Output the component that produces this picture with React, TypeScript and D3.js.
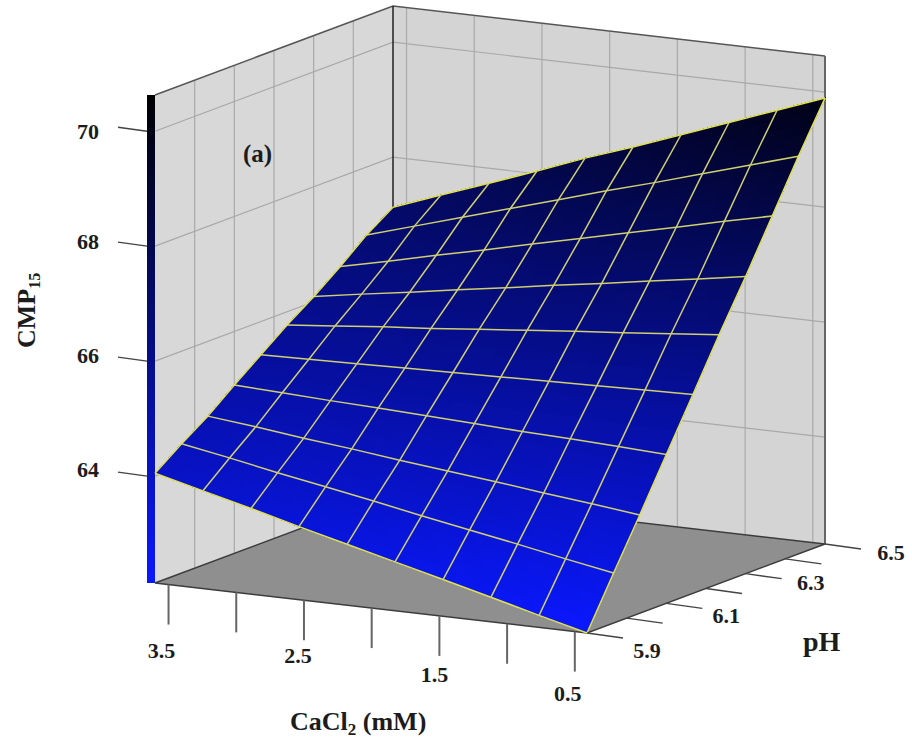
import React from 'react';
import * as d3 from 'd3';

// axis ticks
const caTicks = [3.5, 3, 2.5, 2, 1.5, 1, 0.5];
const phTicks = [5.9, 6.0, 6.1, 6.2, 6.3, 6.4, 6.5];
const zTicks = [64, 66, 68, 70];
const caLabels = ['3.5', '2.5', '1.5', '0.5'];
const phLabels = ['5.9', '6.1', '6.3', '6.5'];

// surface grid
const gridCa = [3.6, 3.246, 2.891, 2.537, 2.182, 1.828, 1.473, 1.119, 0.764, 0.41];
const gridPh = [5.9, 5.967, 6.033, 6.1, 6.167, 6.233, 6.3, 6.367, 6.433, 6.5];
const cmp15 = [
  [64.05, 63.84, 63.63, 63.41, 63.2, 62.99, 62.78, 62.57, 62.35, 62.14],
  [64.39, 64.24, 64.08, 63.93, 63.78, 63.62, 63.47, 63.32, 63.16, 63.01],
  [64.7, 64.61, 64.51, 64.42, 64.32, 64.23, 64.14, 64.04, 63.95, 63.85],
  [65.07, 65.03, 64.99, 64.96, 64.92, 64.88, 64.84, 64.81, 64.77, 64.73],
  [65.42, 65.44, 65.46, 65.48, 65.5, 65.52, 65.54, 65.56, 65.58, 65.6],
  [65.77, 65.85, 65.93, 66.0, 66.08, 66.16, 66.24, 66.31, 66.39, 66.47],
  [66.09, 66.23, 66.36, 66.5, 66.63, 66.77, 66.9, 67.04, 67.17, 67.31],
  [66.44, 66.63, 66.83, 67.02, 67.22, 67.41, 67.61, 67.8, 68.0, 68.19],
  [66.82, 67.07, 67.32, 67.57, 67.82, 68.07, 68.31, 68.56, 68.81, 69.06],
  [67.13, 67.44, 67.74, 68.05, 68.37, 68.66, 68.97, 69.28, 69.59, 69.9],
];

const caRange: [number, number] = [3.6, 0.41];
const phRange: [number, number] = [5.9, 6.5];
const zRange: [number, number] = [62.14, 70.63];

const scaleU = d3.scaleLinear().domain(caRange).range([0, 1]);
const scaleV = d3.scaleLinear().domain(phRange).range([0, 1]);
const scaleZ = d3.scaleLinear().domain(zRange).range([0, -488]);
const colour = d3.scaleLinear<string>().domain(zRange).range(['#0a18ff', '#000000']);

// the view is a plain oblique one, so a point is just origin + three axis vectors
const project = (ca: number, ph: number, z: number): [number, number] => {
  const u = scaleU(ca);
  const v = scaleV(ph);
  return [155 + u * 432 + v * 238, 583 + u * 50 - v * 89 + scaleZ(z)];
};

const line = d3.line<[number, number]>();
const [zLo, zHi] = zRange;
const [caHi, caLo] = caRange;
const [phLo, phHi] = phRange;

const poly = (pts: [number, number][]) => line(pts) + 'Z';

// smooth out the shading: split every mesh cell into small quads
const SUB = 5;
const shaded: { d: string; fill: string }[] = [];
for (let r = 0; r < gridPh.length - 1; r++) {
  for (let c = 0; c < gridCa.length - 1; c++) {
    const at = (a: number, b: number): [number, number, number] => {
      const ca = gridCa[c] + (gridCa[c + 1] - gridCa[c]) * a;
      const ph = gridPh[r] + (gridPh[r + 1] - gridPh[r]) * b;
      const z =
        (1 - b) * ((1 - a) * cmp15[r][c] + a * cmp15[r][c + 1]) +
        b * ((1 - a) * cmp15[r + 1][c] + a * cmp15[r + 1][c + 1]);
      return [ca, ph, z];
    };
    for (let i = 0; i < SUB; i++) {
      for (let j = 0; j < SUB; j++) {
        const corners = [
          at(i / SUB, j / SUB),
          at((i + 1) / SUB, j / SUB),
          at((i + 1) / SUB, (j + 1) / SUB),
          at(i / SUB, (j + 1) / SUB),
        ];
        const mid = at((i + 0.5) / SUB, (j + 0.5) / SUB);
        shaded.push({
          d: poly(corners.map((p) => project(p[0], p[1], p[2]))),
          fill: colour(mid[2]) as string,
        });
      }
    }
  }
}

const rowPaths = gridPh.map((ph, r) => line(gridCa.map((ca, c) => project(ca, ph, cmp15[r][c]))) as string);
const colPaths = gridCa.map((ca, c) => line(gridPh.map((ph, r) => project(ca, ph, cmp15[r][c]))) as string);

const barStops = d3.range(0, 1.01, 0.1);

// hand placed labels in the original, offsets from their tick
const zLabelDy = [1, 2, 3, 8];
const caLabelOffset = [[-7, 73], [-6, 63], [-5, 66], [-7, 69]];
const phLabelOffset = [[60, 25], [60, 20], [65, 16], [66, 16]];

const serif = '"Liberation Serif", serif';
const ink = '#1c1c1c';

export default function App() {
  const wallGrid = '#a9a9a9';
  return (
    <svg
      width={912}
      height={740}
      style={{ position: 'absolute', left: 0, top: 0, background: '#fff' }}
      fontFamily={serif}
      fontWeight="bold"
      fill={ink}
    >
      <defs>
        <linearGradient id="bar" x1="0" y1="1" x2="0" y2="0">
          {barStops.map((t) => (
            <stop
              key={t}
              offset={t}
              stopColor={colour(zLo + (zHi - zLo) * t) as string}
            />
          ))}
        </linearGradient>
      </defs>

      {/* walls */}
      <path
        d={poly([project(caHi, phLo, zLo), project(caHi, phHi, zLo), project(caHi, phHi, zHi), project(caHi, phLo, zHi)])}
        fill="#d8d8d8"
      />
      <path
        d={poly([project(caHi, phHi, zLo), project(caLo, phHi, zLo), project(caLo, phHi, zHi), project(caHi, phHi, zHi)])}
        fill="#d4d4d4"
      />
      {phTicks.slice(1, -1).map((ph) => (
        <path key={ph} d={line([project(caHi, ph, zLo), project(caHi, ph, zHi)]) as string} stroke={wallGrid} strokeWidth={1.2} fill="none" />
      ))}
      {caTicks.map((ca) => (
        <path key={ca} d={line([project(ca, phHi, zLo), project(ca, phHi, zHi)]) as string} stroke={wallGrid} strokeWidth={1.2} fill="none" />
      ))}
      {zTicks.map((z) => (
        <path
          key={z}
          d={line([project(caHi, phLo, z), project(caHi, phHi, z), project(caLo, phHi, z)]) as string}
          stroke={wallGrid}
          strokeWidth={1.2}
          fill="none"
        />
      ))}
      <path d={line([project(caHi, phLo, zHi), project(caHi, phHi, zHi), project(caLo, phHi, zHi)]) as string} stroke="#555" strokeWidth={1.6} fill="none" />
      <path d={line([project(caHi, phHi, zLo), project(caHi, phHi, zHi)]) as string} stroke="#222" strokeWidth={1.5} fill="none" />
      <path d={line([project(caLo, phHi, zLo), project(caLo, phHi, zHi)]) as string} stroke="#666" strokeWidth={2} fill="none" />

      {/* floor */}
      <path
        d={poly([project(caHi, phLo, zLo), project(caLo, phLo, zLo), project(caLo, phHi, zLo), project(caHi, phHi, zLo)])}
        fill="#8f8f8f"
        stroke="#3c3c3c"
        strokeWidth={1.5}
      />

      {/* colour bar */}
      <rect
        x={147}
        y={project(caHi, phLo, zHi)[1]}
        width={8}
        height={project(caHi, phLo, zLo)[1] - project(caHi, phLo, zHi)[1]}
        fill="url(#bar)"
      />

      {/* surface */}
      {shaded.map((q, i) => (
        <path key={i} d={q.d} fill={q.fill} stroke={q.fill} strokeWidth={1} shapeRendering="crispEdges" />
      ))}
      {rowPaths.map((d, i) => (
        <path key={i} d={d} fill="none" stroke={i === 0 || i === rowPaths.length - 1 ? '#e2e24e' : '#cfcf70'} strokeWidth={1.5} />
      ))}
      {colPaths.map((d, i) => (
        <path key={i} d={d} fill="none" stroke={i === 0 || i === colPaths.length - 1 ? '#e2e24e' : '#cfcf70'} strokeWidth={1.5} />
      ))}

      {/* axes */}
      {zTicks.map((z, i) => {
        const [x, y] = project(caHi, phLo, z);
        return (
          <g key={z}>
            <path d={`M${x - 8},${y}L${x - 37},${y - 4}`} stroke="#444" strokeWidth={1.4} fill="none" />
            <text x={x - 78} y={y + zLabelDy[i]} fontSize={22}>
              {z}
            </text>
          </g>
        );
      })}
      {caTicks.map((ca) => {
        const [x, y] = project(ca, phLo, zLo);
        return <path key={ca} d={`M${x},${y}L${x},${y + 40}`} stroke="#666" strokeWidth={2} fill="none" />;
      })}
      {phTicks.map((ph) => {
        const [x, y] = project(caLo, ph, zLo);
        return <path key={ph} d={`M${x},${y}L${x + 36},${y + 5}`} stroke="#444" strokeWidth={1.4} fill="none" />;
      })}
      {caLabels.map((s, i) => {
        const [x, y] = project(+s, phLo, zLo);
        return (
          <text key={s} x={x + caLabelOffset[i][0]} y={y + caLabelOffset[i][1]} fontSize={22} textAnchor="middle">
            {s}
          </text>
        );
      })}
      {phLabels.map((s, i) => {
        const [x, y] = project(caLo, +s, zLo);
        return (
          <text key={s} x={x + phLabelOffset[i][0]} y={y + phLabelOffset[i][1]} fontSize={22} textAnchor="middle">
            {s}
          </text>
        );
      })}

      {/* titles */}
      <text x={290} y={730} fontSize={26}>
        CaCl<tspan dy={5} fontSize={17}>2</tspan>
        <tspan dy={-5}> (mM)</tspan>
      </text>
      <text x={803} y={651} fontSize={28}>
        pH
      </text>
      <text transform="translate(35,348) rotate(-90)" fontSize={26}>
        CMP<tspan dy={5} fontSize={16}>15</tspan>
      </text>
      <text x={243} y={162} fontSize={25}>
        (a)
      </text>
    </svg>
  );
}
